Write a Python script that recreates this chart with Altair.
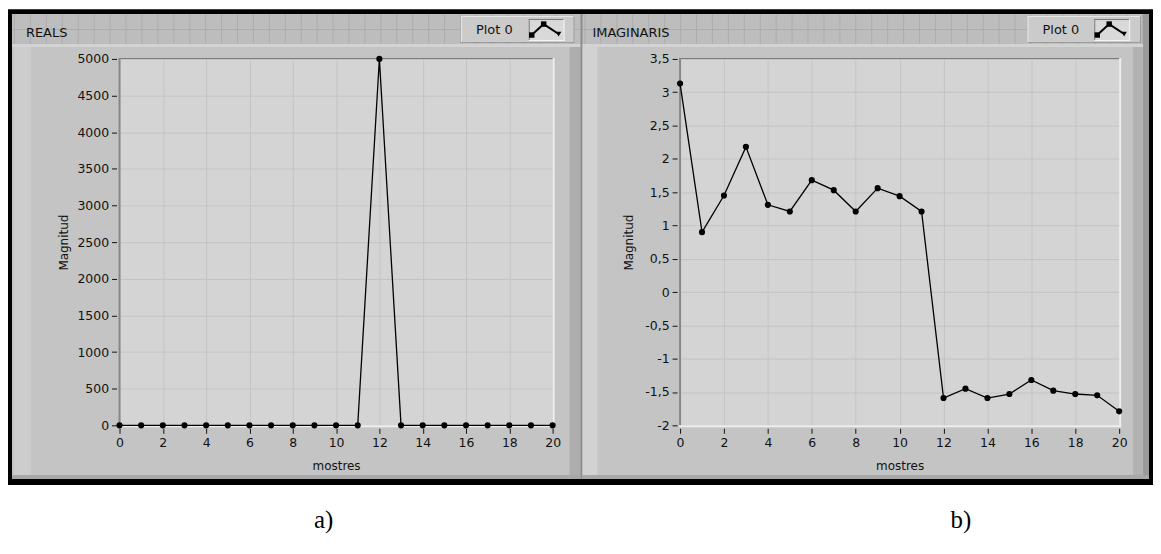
import altair as alt
import pandas as pd

# ---------------- data ----------------
x_samples = [0, 1, 2, 3, 4, 5, 6, 7, 8, 9, 10, 11, 12, 13, 14, 15, 16, 17, 18, 19, 20]
reals = [0, 0, 0, 0, 0, 0, 0, 0, 0, 0, 0, 0, 5000, 0, 0, 0, 0, 0, 0, 0, 0]
imag = [3.13, 0.90, 1.45, 2.18, 1.31, 1.21, 1.68, 1.53, 1.21, 1.56, 1.44, 1.21,
        -1.59, -1.45, -1.59, -1.53, -1.32, -1.48, -1.53, -1.55, -1.79]
x_ticks = [0, 2, 4, 6, 8, 10, 12, 14, 16, 18, 20]
reals_ticks = [0, 500, 1000, 1500, 2000, 2500, 3000, 3500, 4000, 4500, 5000]
imag_ticks = [-2, -1.5, -1, -0.5, 0, 0.5, 1, 1.5, 2, 2.5, 3, 3.5]
titles = ["REALS", "IMAGINARIS"]
legend_label = "Plot 0"
x_title = "mostres"
y_title = "Magnitud"
captions = ["a)", "b)"]

FONT = "DejaVu Sans"
H = 368
ONE = pd.DataFrame({"k": [0]})

# page positions of the two plot areas
LOX, LOY, LW = 120, 58, 435
ROX, ROY, RW = 683, 58, 441
# decoration layer origin (page px)
DX, DY = LOX, 37
VSPACE = LOY - DY - 1


def rects(items, ox, oy):
    out = []
    for (a, c, b, d, col) in items:
        out.append(alt.Chart(ONE).mark_rect(color=col, strokeWidth=0).encode(
            x=alt.value(a - ox), x2=alt.value(b - ox),
            y=alt.value(c - oy), y2=alt.value(d - oy)))
    return out


def label(x, y, t, ox, oy, **kw):
    return alt.Chart(ONE).mark_text(**kw).encode(
        x=alt.value(x - ox), y=alt.value(y - oy), text=alt.value(t))


def icon(ix, iy, ox, oy):
    p = [(ix + 3, iy + 16), (ix + 15, iy + 5), (ix + 30, iy + 15)]
    out = []
    for (a, b), (c, d) in zip(p[:-1], p[1:]):
        out.append(alt.Chart(ONE).mark_rule(color="black", strokeWidth=2).encode(
            x=alt.value(a - ox), y=alt.value(b - oy), x2=alt.value(c - ox), y2=alt.value(d - oy)))
    for (a, b), shp in zip(p, ["square", "square", "triangle-down"]):
        out.append(alt.Chart(ONE).mark_point(filled=True, color="black", size=30, opacity=1,
                                             shape=shp).encode(
            x=alt.value(a - ox), y=alt.value(b - oy)))
    return out


def header_items(x0, x1):
    items = [(x0, 13, x1, 43, "#bdbdbd")]
    for gx in range(x0 + 2, x1, 16):
        items.append((gx, 13, gx + 1, 43, "#adadad"))
    items.append((x0, 28, x1, 29, "#adadad"))
    return items


def legend_items(bx, ix):
    return [
        (bx, 15, bx + 114, 42, "#cbcbcb"),
        (bx, 15, bx + 114, 16, "#e6e6e6"),
        (bx, 15, bx + 1, 42, "#e6e6e6"),
        (bx, 41, bx + 114, 42, "#9c9c9c"),
        (bx + 113, 15, bx + 114, 42, "#9c9c9c"),
        (ix, 18, ix + 36, 40, "#d9d9d9"),
        (ix, 18, ix + 36, 19, "#7a7a7a"),
        (ix, 18, ix + 1, 40, "#7a7a7a"),
        (ix, 39, ix + 36, 40, "#f4f4f4"),
        (ix + 35, 18, ix + 36, 40, "#f4f4f4"),
    ]


# ---------------- decorations (LabVIEW-like frame) ----------------
back = [
    (8, 8, 1158, 486, "#000000"),
    (12, 13, 1154, 480, "#c4c4c4"),
] + header_items(12, 583) + [
    (12, 43, 583, 46, "#d3d3d3"),
    (14, 46, 31, 477, "#cdcdcd"),
    (572, 46, 583, 477, "#adadad"),
    (12, 476, 583, 480, "#a8a8a8"),
] + legend_items(463, 531) + header_items(585, 1154) + [
    (583, 13, 585, 480, "#8c8c8c"),
    (585, 43, 1154, 46, "#d3d3d3"),
    (585, 46, 600, 477, "#d2d2d2"),
    (1138, 46, 1148, 477, "#b2b2b2"),
    (1148, 13, 1154, 480, "#9a9a9a"),
    (585, 476, 1154, 480, "#a8a8a8"),
] + legend_items(1032, 1099)

deco_layers = rects(back, DX, DY)
deco_layers += icon(531, 18, DX, DY) + icon(1099, 18, DX, DY)
txt = dict(align="left", baseline="middle", font=FONT, fontSize=13, color="#111")
deco_layers += [
    label(26, 32, titles[0], DX, DY, **txt),
    label(478, 29, legend_label, DX, DY, **txt),
    label(595, 32, titles[1], DX, DY, **txt),
    label(1047, 29, legend_label, DX, DY, **txt),
    label(325, 521, captions[0], DX, DY, align="center", baseline="middle",
          font="Liberation Serif", fontSize=25, color="#000"),
    label(965, 521, captions[1], DX, DY, align="center", baseline="middle",
          font="Liberation Serif", fontSize=25, color="#000"),
]
deco = alt.layer(*deco_layers).properties(width=1, height=1)


def panel(ox, oy, w, values, yticks, ydomain, yfmt, title_x):
    xs = alt.Scale(domain=[0, 20], nice=False, zero=False)
    ys = alt.Scale(domain=ydomain, nice=False, zero=False)
    common = dict(grid=True, gridColor="#c4c4c4", gridWidth=1, domain=False,
                  tickSize=5, tickColor="#111", offset=3,
                  labelFont=FONT, labelFontSize=12.5, labelColor="#111",
                  labelPadding=3, labelOverlap=False,
                  titleFont=FONT, titleFontSize=12, titleFontWeight="normal",
                  titleColor="#111", titleBaseline="middle")
    xaxis = alt.Axis(values=x_ticks, labelFlush=False, title=x_title, titleY=37, **common)
    ykw = dict(values=yticks, title=y_title, titleX=title_x, titleY=H / 2,
               titleAlign="center", **common)
    if yfmt == "comma":
        ykw["labelExpr"] = "replace(toString(datum.value), '.', ',')"
    else:
        ykw["format"] = "d"
    yaxis = alt.Axis(**ykw)

    src = pd.DataFrame({"mostres": x_samples, "val": values})
    line = alt.Chart(src).mark_line(color="black", strokeWidth=1.3).encode(
        x=alt.X("mostres:Q", scale=xs, axis=xaxis),
        y=alt.Y("val:Q", scale=ys, axis=yaxis))
    pts = alt.Chart(src).mark_circle(color="black", size=38, opacity=1).encode(
        x=alt.X("mostres:Q", scale=xs, axis=xaxis), y=alt.Y("val:Q", scale=ys, axis=yaxis))
    border = [
        (ox - 1, oy - 1, ox + w + 1, oy, "#7c7c7c"),
        (ox - 1, oy - 1, ox + 1, oy + H, "#888888"),
        (ox - 1, oy + H, ox + w + 2, oy + H + 2, "#eeeeee"),
        (ox + w, oy - 1, ox + w + 2, oy + H + 2, "#eeeeee"),
    ]
    layers = rects(border, ox, oy) + [line, pts]
    return alt.layer(*layers).properties(
        width=w, height=H, view=alt.ViewBackground(fill="#d4d4d4", stroke=None))


left = panel(LOX, LOY, LW, reals, reals_ticks, [0, 5000], "int", -53)
right = panel(ROX, ROY, RW, imag, imag_ticks, [-2, 3.5], "comma", -49)

row = alt.HConcatChart(hconcat=[left, right], spacing=ROX - (LOX + LW), bounds="flush")
chart = alt.VConcatChart(vconcat=[deco, row], spacing=VSPACE, bounds="flush").properties(
    padding=0, background="white"
).configure_view(stroke=None)

chart.save("out.html", embed_options={"renderer": "svg", "actions": False})
